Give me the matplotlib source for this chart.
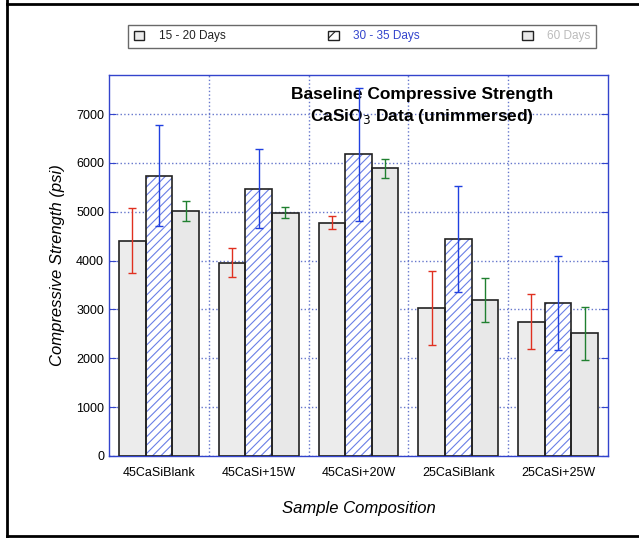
import numpy as np
import matplotlib
matplotlib.use("Agg")
import matplotlib.pyplot as plt
from matplotlib.lines import Line2D

plt.rcParams['font.family'] = ['Liberation Sans', 'DejaVu Sans']
plt.rcParams['hatch.linewidth'] = 0.8

samples = ['45CaSiBlank', '45CaSi+15W', '45CaSi+20W', '25CaSiBlank', '25CaSi+25W']
series = ['15 - 20 Days', '30 - 35 Days', '60 Days']
days15 = [4410, 3960, 4780, 3030, 2750]
days15_err = [665, 305, 125, 760, 560]
days30 = [5740, 5470, 6180, 4440, 3130]
days30_err = [1030, 805, 1360, 1080, 960]
days60 = [5020, 4980, 5890, 3200, 2510]
days60_err = [205, 115, 195, 450, 550]

blue = '#3344cc'
grid_col = '#6677cc'

fig = plt.figure(figsize=(6.39, 5.38), dpi=100)
ax = fig.add_axes([109/639, 1-456/538, 499/639, 381/538])

x = np.arange(len(samples)) + 0.5
w = 0.267
face = ['#ececec', 'white', '#e8e8e8']
hatch = [None, '////', None]
hcol = ['#333333', '#6a7fe6', '#333333']
ecol = ['#e03020', '#2040e0', '#208030']
vals = [days15, days30, days60]
errs = [days15_err, days30_err, days60_err]

for i in range(3):
    pos = x + (i - 1) * w
    ax.bar(pos, vals[i], width=w, color=face[i], edgecolor=hcol[i], hatch=hatch[i],
           linewidth=0, zorder=2)
    ax.bar(pos, vals[i], width=w, color='none', edgecolor='#222222', linewidth=1.2, zorder=3)
    ax.errorbar(pos, vals[i], yerr=errs[i], fmt='none', ecolor=ecol[i],
                elinewidth=1, capsize=3, capthick=1, zorder=4)

ax.set_xlim(0, 5)
ax.set_ylim(0, 7800)
ax.set_yticks(np.arange(0, 8000, 1000))
ax.set_xticks(x)
ax.set_xticklabels(samples, fontsize=9)
ax.set_xticks([1, 2, 3, 4], minor=True)
ax.tick_params(axis='x', which='both', length=0, pad=8)
ax.tick_params(axis='y', direction='in', right=True, length=5, color=blue, labelsize=9)
ax.grid(axis='y', which='major', linestyle=':', color=grid_col, linewidth=1, zorder=0)
ax.grid(axis='x', which='minor', linestyle=':', color=grid_col, linewidth=1, zorder=0)
ax.set_axisbelow(True)
for s in ax.spines.values():
    s.set_color(blue)
    s.set_linewidth(1)

ax.set_ylabel('Compressive Strength (psi)', fontsize=12, style='italic', labelpad=8)
ax.set_xlabel('Sample Composition', fontsize=12, style='italic', labelpad=16)

ax.text(0.628, 0.95, 'Baseline Compressive Strength', transform=ax.transAxes,
        ha='center', va='center', fontsize=12.5, fontweight='bold')
ax.text(0.628, 0.89, 'CaSiO$_3$ Data (unimmersed)', transform=ax.transAxes,
        ha='center', va='center', fontsize=12.5, fontweight='bold')

handles = [
    plt.Rectangle((0, 0), 1, 1, facecolor='#ececec', edgecolor='#222222'),
    plt.Rectangle((0, 0), 1, 1, facecolor='white', edgecolor='#222222', hatch='//'),
    plt.Rectangle((0, 0), 1, 1, facecolor='#e8e8e8', edgecolor='#222222'),
]
leg = fig.legend(handles, series, loc='center', ncol=3,
                 bbox_to_anchor=(362/639, 1-36.5/538), fontsize=8.5,
                 frameon=True, fancybox=False, edgecolor='#444444',
                 handlelength=0.9, handleheight=0.9, handletextpad=1.2,
                 columnspacing=8.7, borderpad=0.5, borderaxespad=0)
leg.get_frame().set_linewidth(1)
txts = leg.get_texts()
txts[0].set_color('#222222')
txts[1].set_color(blue)
txts[2].set_color('#bbbbbb')

# outer border lines
fig.add_artist(Line2D([7/639, 7/639], [0, 1], transform=fig.transFigure, color='black', lw=2))
fig.add_artist(Line2D([7/639, 1], [1-4/538, 1-4/538], transform=fig.transFigure, color='black', lw=2))
fig.add_artist(Line2D([7/639, 1], [1-536/538, 1-536/538], transform=fig.transFigure, color='black', lw=2))

fig.savefig('out.png', dpi=100)
